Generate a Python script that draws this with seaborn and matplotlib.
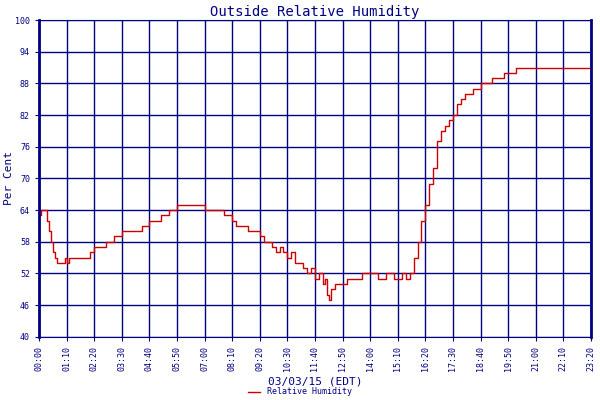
import matplotlib
matplotlib.use("Agg")
import matplotlib.pyplot as plt
import seaborn as sns
import pandas as pd

minutes = [0,5,15,20,25,30,35,40,45,60,65,70,75,80,100,130,140,170,190,210,260,280,310,330,350,400,420,460,470,490,500,530,560,570,590,600,610,620,630,640,650,660,670,680,690,700,710,720,725,730,735,740,750,760,780,800,820,840,860,880,900,920,930,940,950,960,970,980,990,1000,1010,1020,1030,1040,1050,1060,1070,1080,1100,1120,1150,1180,1210,1400]
humidity = [63,64,64,62,60,58,56,55,54,54,55,54,55,55,55,56,57,58,59,60,61,62,63,64,65,65,64,64,63,62,61,60,59,58,57,56,57,56,55,56,54,54,53,52,53,51,52,50,51,48,47,49,50,50,51,51,52,52,51,52,51,52,51,52,55,58,62,65,69,72,77,79,80,81,82,84,85,86,87,88,89,90,91,91]
tick_labels = ["00:00","01:10","02:20","03:30","04:40","05:50","07:00","08:10","09:20","10:30","11:40","12:50","14:00","15:10","16:20","17:30","18:40","19:50","21:00","22:10","23:20"]
yticks = [40,46,52,58,64,70,76,82,88,94,100]

df = pd.DataFrame({"minute": minutes, "Relative Humidity": humidity})
navy = "#000080"
plt.rcParams["font.family"] = "DejaVu Sans Mono"
fig, ax = plt.subplots(figsize=(6, 4), dpi=100)
fig.subplots_adjust(left=0.065, right=0.985, top=0.95, bottom=0.158)
sns.lineplot(data=df, x="minute", y="Relative Humidity", drawstyle="steps-post",
             color="#cc0000", lw=1, ax=ax, label="Relative Humidity", legend=False)
ax.set_xlim(0, 1400)
ax.set_ylim(40, 100)
ax.set_xticks([i * 70 for i in range(len(tick_labels))])
ax.set_xticklabels(tick_labels, rotation=90, fontsize=6, color=navy)
ax.set_yticks(yticks)
ax.set_yticklabels([str(v) for v in yticks], fontsize=6, color=navy)
ax.grid(True, color=navy, lw=1)
ax.set_axisbelow(True)
for s in ax.spines.values():
    s.set_color(navy)
ax.spines["left"].set_linewidth(2)
ax.spines["right"].set_linewidth(2)
ax.tick_params(colors=navy, length=3)
ax.set_title("Outside Relative Humidity", color=navy, fontsize=10, pad=3)
ax.set_ylabel("Per Cent", color=navy, fontsize=8)
ax.yaxis.set_label_coords(-0.045, 0.5)
ax.set_xlabel("03/03/15 (EDT)", color=navy, fontsize=8, labelpad=4)
leg = fig.legend(loc="lower center", bbox_to_anchor=(0.5, -0.01), frameon=False, fontsize=6, handlelength=1.5)
for t in leg.get_texts():
    t.set_color(navy)
fig.savefig("out.png")
